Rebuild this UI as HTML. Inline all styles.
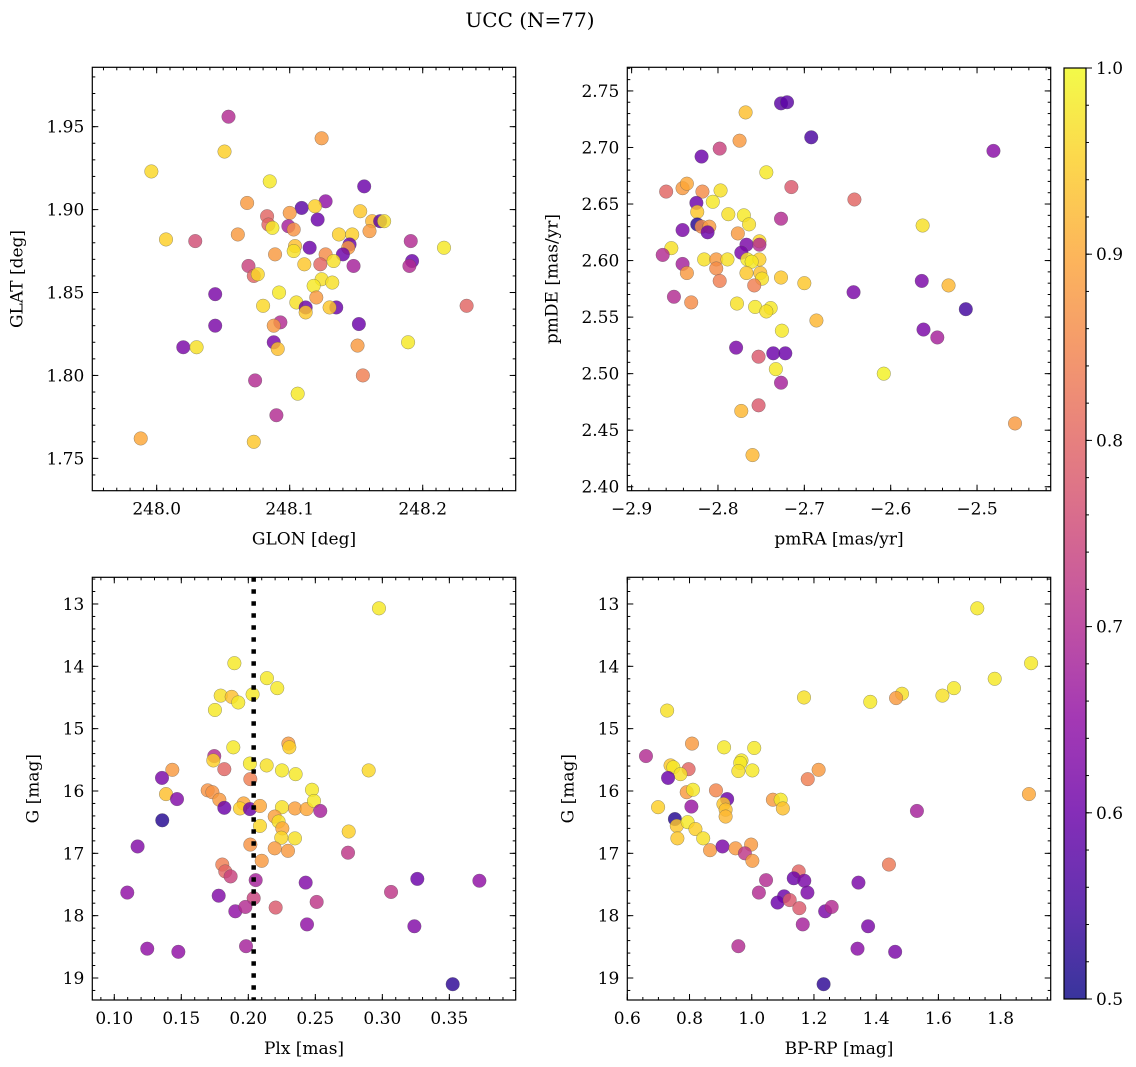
<!DOCTYPE html>
<html><head><meta charset="utf-8"><style>
html,body{margin:0;padding:0;background:#fff}
svg{display:block;font-family:"DejaVu Serif","Liberation Serif",serif}
</style></head><body>
<svg id="fig" width="1136" height="1067" viewBox="0 0 1136 1067">
<text x="530" y="27" text-anchor="middle" font-size="20">UCC (N=77)</text>
</svg>
<script>
// ---- Panel 1: GLON vs GLAT ----
const glon = [248.054,248.124,248.051,247.996,248.085,248.156,248.068,248.127,248.109,248.119,248.153,248.100,248.121,248.083,248.084,248.087,248.099,248.103,248.162,248.168,248.171,248.160,248.007,248.029,248.061,248.137,248.147,248.191,248.216,248.104,248.103,248.115,248.145,248.144,248.089,248.127,248.140,248.133,248.111,248.123,248.148,248.192,248.190,248.069,248.073,248.076,248.124,248.132,248.118,248.092,248.120,248.044,248.105,248.080,248.112,248.112,248.135,248.130,248.233,248.044,248.093,248.088,248.152,248.020,248.030,248.088,248.091,248.151,248.189,248.155,248.074,248.106,248.090,247.988,248.073];
const glat = [1.956,1.943,1.935,1.923,1.917,1.914,1.904,1.905,1.901,1.902,1.899,1.898,1.894,1.896,1.891,1.889,1.890,1.888,1.893,1.893,1.893,1.887,1.882,1.881,1.885,1.885,1.885,1.881,1.877,1.878,1.875,1.877,1.879,1.877,1.873,1.873,1.873,1.869,1.867,1.867,1.866,1.869,1.866,1.866,1.860,1.861,1.858,1.856,1.854,1.850,1.847,1.849,1.844,1.842,1.841,1.838,1.841,1.841,1.842,1.830,1.832,1.830,1.831,1.817,1.817,1.820,1.816,1.818,1.820,1.800,1.797,1.789,1.776,1.762,1.760];
const prob1 = [0.70,0.88,0.95,0.96,0.98,0.60,0.88,0.65,0.58,0.95,0.94,0.88,0.60,0.80,0.80,0.98,0.68,0.87,0.92,0.58,0.97,0.88,0.95,0.76,0.88,0.95,0.95,0.70,0.98,0.93,0.97,0.60,0.60,0.88,0.88,0.86,0.60,0.97,0.94,0.80,0.68,0.60,0.70,0.74,0.80,0.96,0.97,0.97,0.98,0.98,0.88,0.62,0.97,0.96,0.60,0.94,0.60,0.94,0.80,0.62,0.70,0.88,0.60,0.62,0.97,0.62,0.93,0.88,0.98,0.84,0.70,0.98,0.70,0.90,0.94];

// ---- Panel 2: pmRA vs pmDE ----
const pmra = [-2.727,-2.720,-2.768,-2.692,-2.481,-2.775,-2.798,-2.819,-2.744,-2.715,-2.860,-2.841,-2.836,-2.818,-2.797,-2.642,-2.825,-2.806,-2.824,-2.788,-2.770,-2.764,-2.727,-2.824,-2.819,-2.810,-2.812,-2.841,-2.563,-2.777,-2.752,-2.767,-2.752,-2.773,-2.854,-2.864,-2.816,-2.802,-2.789,-2.766,-2.752,-2.761,-2.802,-2.841,-2.836,-2.767,-2.751,-2.749,-2.798,-2.758,-2.727,-2.700,-2.564,-2.533,-2.643,-2.851,-2.831,-2.778,-2.757,-2.739,-2.744,-2.513,-2.686,-2.726,-2.562,-2.546,-2.779,-2.753,-2.736,-2.722,-2.733,-2.727,-2.608,-2.773,-2.753,-2.456,-2.760];
const pmde = [2.739,2.740,2.731,2.709,2.697,2.706,2.699,2.692,2.678,2.665,2.661,2.664,2.668,2.661,2.662,2.654,2.651,2.652,2.643,2.641,2.640,2.632,2.637,2.632,2.630,2.630,2.625,2.627,2.631,2.624,2.617,2.614,2.614,2.607,2.611,2.605,2.601,2.601,2.601,2.601,2.601,2.599,2.593,2.597,2.589,2.589,2.589,2.584,2.582,2.578,2.585,2.580,2.582,2.578,2.572,2.568,2.563,2.562,2.559,2.558,2.555,2.557,2.547,2.538,2.539,2.532,2.523,2.515,2.518,2.518,2.504,2.492,2.500,2.467,2.472,2.456,2.428];
const prob2 = [0.58,0.58,0.93,0.56,0.64,0.88,0.74,0.60,0.98,0.78,0.80,0.88,0.90,0.86,0.97,0.80,0.60,0.98,0.94,0.97,0.98,0.97,0.70,0.52,0.86,0.88,0.60,0.62,0.97,0.88,0.96,0.62,0.70,0.62,0.97,0.70,0.97,0.88,0.97,0.98,0.95,0.98,0.86,0.68,0.88,0.94,0.93,0.97,0.84,0.84,0.94,0.94,0.62,0.92,0.62,0.70,0.86,0.97,0.98,0.98,0.97,0.55,0.92,0.98,0.62,0.68,0.62,0.78,0.60,0.60,0.98,0.68,0.99,0.92,0.78,0.88,0.92];

// ---- Panel 3: Plx vs G ----
const plx = [0.2975,0.1896,0.2139,0.2216,0.1794,0.1876,0.1925,0.2032,0.1751,0.2299,0.2306,0.1888,0.1746,0.1739,0.1821,0.1433,0.1356,0.2012,0.2137,0.2251,0.2353,0.2898,0.2015,0.1386,0.1468,0.1697,0.1732,0.1784,0.1821,0.1965,0.1938,0.2012,0.2087,0.2251,0.2348,0.2435,0.2475,0.2490,0.2537,0.1358,0.2197,0.2226,0.2254,0.2087,0.2246,0.2348,0.2749,0.1174,0.2015,0.2197,0.2296,0.2744,0.2100,0.1806,0.1828,0.1868,0.2055,0.2428,0.3261,0.3724,0.1097,0.1779,0.3065,0.2040,0.2510,0.2204,0.1903,0.1978,0.2438,0.3239,0.1246,0.1478,0.1983,0.3525];
const gmag3 = [13.07,13.95,14.19,14.35,14.47,14.49,14.58,14.45,14.70,15.24,15.30,15.30,15.44,15.51,15.65,15.66,15.79,15.56,15.59,15.67,15.73,15.67,15.81,16.05,16.13,15.99,16.02,16.14,16.27,16.20,16.28,16.29,16.24,16.26,16.28,16.29,15.98,16.16,16.32,16.47,16.41,16.49,16.60,16.56,16.75,16.76,16.65,16.89,16.86,16.92,16.96,16.99,17.12,17.18,17.29,17.37,17.43,17.47,17.41,17.44,17.63,17.68,17.62,17.72,17.78,17.87,17.93,17.86,18.14,18.17,18.53,18.58,18.49,19.10];
const prob3 = [0.98,0.98,0.98,0.98,0.97,0.93,0.98,0.98,0.98,0.88,0.95,0.98,0.70,0.95,0.80,0.88,0.62,0.98,0.97,0.98,0.98,0.96,0.84,0.93,0.63,0.87,0.87,0.88,0.60,0.90,0.95,0.60,0.90,0.97,0.89,0.90,0.98,0.98,0.68,0.52,0.89,0.97,0.90,0.96,0.96,0.97,0.95,0.63,0.87,0.88,0.88,0.72,0.88,0.84,0.80,0.74,0.68,0.63,0.60,0.65,0.65,0.63,0.72,0.74,0.72,0.78,0.65,0.70,0.65,0.63,0.65,0.65,0.68,0.53];
const plxLine = 0.204;

// ---- Panel 4: BP-RP vs G ----
const bprp = [1.725,1.898,1.781,1.650,1.613,1.483,1.464,1.381,1.168,0.728,0.808,0.911,1.008,0.660,0.739,0.748,0.797,0.771,0.731,0.967,0.963,0.957,1.002,1.215,1.180,0.791,0.811,0.885,0.921,1.891,1.068,1.093,1.100,0.699,0.806,0.909,0.916,0.916,1.531,0.753,0.759,0.794,0.819,0.844,0.761,0.866,0.906,0.948,0.998,0.978,1.002,1.441,1.151,1.135,1.169,1.046,1.343,1.023,1.179,1.104,1.083,1.122,1.153,1.236,1.257,1.164,1.374,0.957,1.340,1.461,1.231];
const gmag4 = [13.07,13.95,14.20,14.35,14.47,14.44,14.51,14.57,14.50,14.71,15.24,15.30,15.31,15.44,15.59,15.62,15.65,15.73,15.79,15.51,15.55,15.68,15.67,15.66,15.81,16.02,15.98,15.99,16.13,16.05,16.14,16.14,16.28,16.26,16.25,16.21,16.30,16.41,16.32,16.45,16.56,16.50,16.61,16.76,16.76,16.95,16.89,16.92,16.86,17.00,17.12,17.18,17.29,17.40,17.44,17.43,17.47,17.63,17.63,17.69,17.79,17.75,17.88,17.93,17.86,18.14,18.17,18.49,18.53,18.58,19.10];
const prob4 = [0.98,0.98,0.98,0.98,0.97,0.97,0.88,0.98,0.97,0.97,0.88,0.98,0.98,0.70,0.94,0.98,0.80,0.97,0.60,0.98,0.98,0.97,0.98,0.88,0.84,0.88,0.98,0.85,0.60,0.90,0.88,0.98,0.93,0.95,0.66,0.94,0.93,0.92,0.68,0.52,0.94,0.98,0.95,0.97,0.94,0.88,0.62,0.88,0.88,0.72,0.88,0.83,0.80,0.60,0.62,0.70,0.62,0.70,0.62,0.60,0.60,0.78,0.78,0.62,0.70,0.68,0.62,0.70,0.64,0.62,0.53];

// ---- Colorbar ----
const cbTicks = [0.5,0.6,0.7,0.8,0.9,1.0];

const NS = 'http://www.w3.org/2000/svg';
const svg = document.getElementById('fig');
const plasma = [[13,8,135],[65,4,157],[106,0,168],[143,13,164],[177,42,144],[204,71,120],[225,100,98],[242,132,75],[252,166,54],[252,206,37],[240,249,33]];
function cmap(v){
  let t = Math.max(0, Math.min(1, (v-0.5)/0.5))*10;
  let i = Math.min(9, Math.floor(t)); let f = t-i;
  const a = plasma[i], b = plasma[i+1];
  return 'rgb(' + [0,1,2].map(k => Math.round(a[k]+(b[k]-a[k])*f)).join(',') + ')';
}
function el(tag, attrs, parent){
  const e = document.createElementNS(NS, tag);
  for (const k in attrs) e.setAttribute(k, attrs[k]);
  (parent||svg).appendChild(e); return e;
}
function fmt(v, d){ return v.toFixed(d).replace('-', '\u2212'); }

function panel(o, xs, ys, cs){
  const g = el('g', {});
  
  
  const X = v => o.L + (v - o.x0)/(o.x1 - o.x0)*(o.R - o.L);
  const Y = v => o.inv ? o.T + (v - o.y0)/(o.y1 - o.y0)*(o.B - o.T) : o.B - (v - o.y0)/(o.y1 - o.y0)*(o.B - o.T);
  const tg = el('g', {stroke:'#000','stroke-width':1}, g);
  
  
  const eps = 1e-9;
  for (let v = Math.ceil(o.x0/o.xmin - eps)*o.xmin; v <= o.x1 + eps; v += o.xmin){
    const x = X(v);
    el('line',{x1:x,x2:x,y1:o.B,y2:o.B-3},tg); el('line',{x1:x,x2:x,y1:o.T,y2:o.T+3},tg);
  }
  for (let v = Math.ceil(Math.min(o.y0,o.y1)/o.ymin - eps)*o.ymin; v <= Math.max(o.y0,o.y1) + eps; v += o.ymin){
    const y = Y(v);
    el('line',{x1:o.L,x2:o.L+3,y1:y,y2:y},tg); el('line',{x1:o.R,x2:o.R-3,y1:y,y2:y},tg);
  }
  o.xt.forEach(v => {
    const x = X(v);
    el('line',{x1:x,x2:x,y1:o.B,y2:o.B-6},tg); el('line',{x1:x,x2:x,y1:o.T,y2:o.T+6},tg);
    const t = el('text',{x:x,y:o.B+24,'text-anchor':'middle','font-size':17,stroke:'none'},g);
    t.textContent = fmt(v, o.xd);
    
    
  });
  o.yt.forEach(v => {
    const y = Y(v);
    el('line',{x1:o.L,x2:o.L+6,y1:y,y2:y},tg); el('line',{x1:o.R,x2:o.R-6,y1:y,y2:y},tg);
    const t = el('text',{x:o.L-8,y:y+6,'text-anchor':'end','font-size':17,stroke:'none'},g);
    t.textContent = fmt(v, o.yd);
    
    
  });
  const pg = el('g', {}, g);
  
  
  xs.forEach((xv, i) => {
    const c = el('circle',{cx:X(xv),cy:Y(ys[i]),r:6.8,fill:cmap(cs[i]),'fill-opacity':0.82,stroke:'#555','stroke-opacity':0.6,'stroke-width':0.5},pg);
    
    
  });
  if (o.vline !== undefined){
    const l = el('line',{x1:X(o.vline),x2:X(o.vline),y1:o.T,y2:o.B,stroke:'#000','stroke-width':4.5,'stroke-dasharray':'4.5 7.5'},g);
    
    
  }
  const fr = el('rect',{x:o.L,y:o.T,width:o.R-o.L,height:o.B-o.T,fill:'none',stroke:'#000','stroke-width':1.2},g);
  
  
  const xl = el('text',{x:(o.L+o.R)/2,y:o.B+54,'text-anchor':'middle','font-size':17},g);
  xl.textContent = o.xlabel;
  
  
  const yx = o.L - o.ylOff, yy = (o.T+o.B)/2;
  const yl = el('text',{x:yx,y:yy,'text-anchor':'middle','font-size':17,transform:'rotate(-90 '+yx+' '+yy+')'},g);
  yl.textContent = o.ylabel;
  
  
}

panel({name:'glon-glat-panel',L:92.3,R:515.7,T:67.3,B:490.7,x0:247.9516,x1:248.2699,y0:1.7305,y1:1.9858,
  xmin:0.01,ymin:0.01,xt:[248.0,248.1,248.2],yt:[1.75,1.80,1.85,1.90,1.95],xd:1,yd:2,xlabel:'GLON [deg]',ylabel:'GLAT [deg]',ylOff:70}, glon, glat, prob1);
panel({name:'pm-panel',L:627.3,R:1050.7,T:67.3,B:490.7,x0:-2.905,x1:-2.4147,y0:2.3965,y1:2.7709,
  xmin:0.02,ymin:0.01,xt:[-2.9,-2.8,-2.7,-2.6,-2.5],yt:[2.40,2.45,2.50,2.55,2.60,2.65,2.70,2.75],xd:1,yd:2,xlabel:'pmRA [mas/yr]',ylabel:'pmDE [mas/yr]',ylOff:70}, pmra, pmde, prob2);
panel({name:'plx-g-panel',L:92.3,R:515.7,T:577.3,B:1000,x0:0.0836,x1:0.3995,y0:12.572,y1:19.353,inv:true,
  xmin:0.01,ymin:0.2,xt:[0.10,0.15,0.20,0.25,0.30,0.35],yt:[13,14,15,16,17,18,19],xd:2,yd:0,xlabel:'Plx [mas]',ylabel:'G [mag]',ylOff:54,vline:plxLine}, plx, gmag3, prob3);
panel({name:'cmd-panel',L:627.3,R:1050.7,T:577.3,B:1000,x0:0.6,x1:1.961,y0:12.572,y1:19.353,inv:true,
  xmin:0.05,ymin:0.2,xt:[0.6,0.8,1.0,1.2,1.4,1.6,1.8],yt:[13,14,15,16,17,18,19],xd:1,yd:0,xlabel:'BP-RP [mag]',ylabel:'G [mag]',ylOff:54}, bprp, gmag4, prob4);

(function(){
  const L=1064, R=1086, T=68, B=999;
  const g = el('g', {});
  
  
  const defs = el('defs', {}, g);
  const lg = el('linearGradient', {id:'cbg',x1:0,y1:1,x2:0,y2:0}, defs);
  for (let i = 0; i <= 20; i++){
    el('stop', {offset:(i/20), 'stop-color':cmap(0.5 + i/40), 'stop-opacity':0.82}, lg);
  }
  el('rect', {x:L,y:T,width:R-L,height:B-T,fill:'url(#cbg)'}, g);
  const Y = v => B - (v-0.5)/0.5*(B-T);
  for (let v = 0.52; v < 0.999; v += 0.02){
    el('line', {x1:R,x2:R+3,y1:Y(v),y2:Y(v),stroke:'#000'}, g);
  }
  cbTicks.forEach(v => {
    el('line', {x1:R,x2:R+6,y1:Y(v),y2:Y(v),stroke:'#000'}, g);
    const t = el('text', {x:R+10,y:Y(v)+6,'font-size':17}, g);
    t.textContent = v.toFixed(1);
    
    
  });
  el('rect', {x:L,y:T,width:R-L,height:B-T,fill:'none',stroke:'#000','stroke-width':1.2}, g);
})();
</script>
</body></html>
